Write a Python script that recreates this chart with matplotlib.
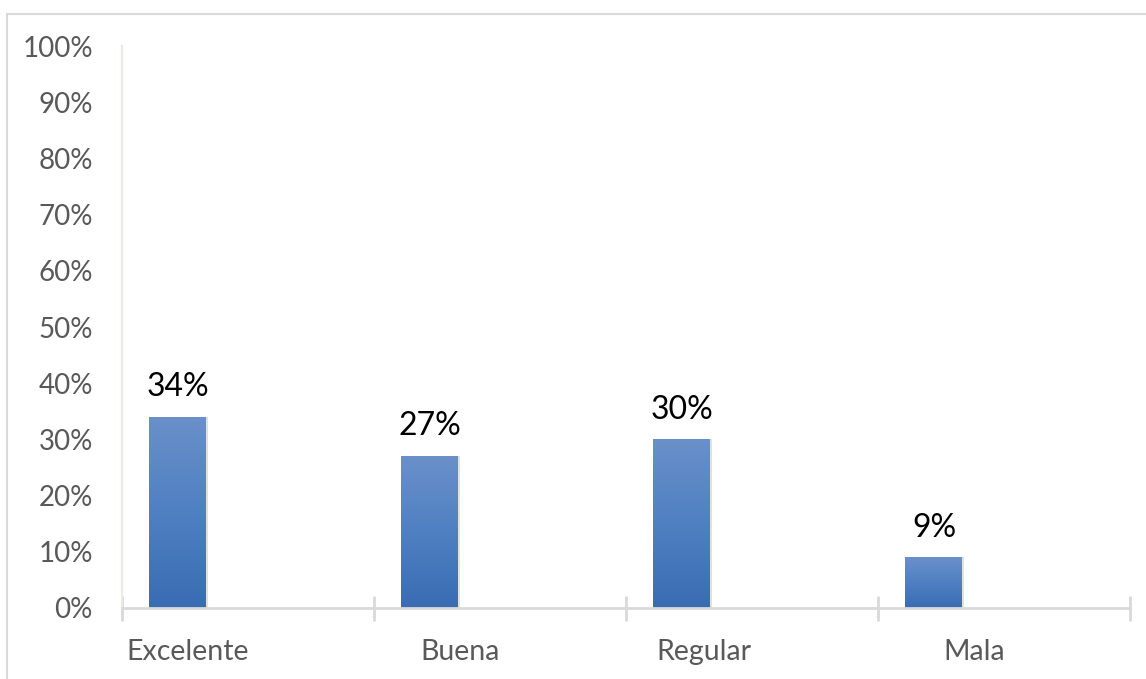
import numpy as np
import matplotlib
matplotlib.use("Agg")
import matplotlib.pyplot as plt
from matplotlib.patches import Rectangle
from matplotlib.colors import LinearSegmentedColormap

# Survey ratings
categories = ['Excelente', 'Buena', 'Regular', 'Mala']
values = [34, 27, 30, 9]
label_offsets = [-0.24, -0.16, -0.19, -0.12]

plt.rcParams['font.family'] = ['Lato', 'DejaVu Sans']

fig = plt.figure(figsize=(11.46, 6.79), dpi=100)
ax = fig.add_axes([122 / 1146, 71 / 679, 1008 / 1146, 562 / 679])

# light frame around the chart area
fig.patches.append(Rectangle((7 / 1146, -0.1), 1.2, (679 - 14) / 679 + 0.1,
                             transform=fig.transFigure, fill=False,
                             edgecolor='#D9D9D9', linewidth=1.5))

x = np.arange(len(categories))
bar_x = x - 0.278
bars = ax.bar(bar_x, values, width=0.226, color='#4F81BD', zorder=3)

cmap = LinearSegmentedColormap.from_list('bar', ['#3A6CB3', '#4F80C2', '#6A90C9'])
grad = np.linspace(0, 1, 256).reshape(-1, 1)
for b in bars:
    x0, w, h = b.get_x(), b.get_width(), b.get_height()
    # soft drop shadow
    ax.add_patch(Rectangle((x0 + 0.006, -0.3), w, h + 0.3, color='#000000',
                           alpha=0.12, zorder=2, linewidth=0))
    im = ax.imshow(grad, cmap=cmap, origin='lower', aspect='auto',
                   extent=(x0, x0 + w, 0, h), zorder=4)
    im.set_clip_path(b)

for bx, v in zip(bar_x, values):
    ax.text(bx, v + 5.3, f'{v}%', ha='center', va='center', fontsize=23,
            color='#000000')

ax.set_xlim(-0.5, len(categories) - 0.5)
ax.set_ylim(0, 100)
ax.set_yticks(np.arange(0, 101, 10))
ax.set_yticklabels([f'{t}%' for t in range(0, 101, 10)])
ax.tick_params(axis='y', length=0, pad=21, labelsize=20, labelcolor='#595959')

ax.set_xticks(x + np.array(label_offsets))
ax.set_xticklabels(categories)
ax.tick_params(axis='x', which='major', length=0, pad=22, labelsize=20.5,
               labelcolor='#595959')
ax.set_xticks(np.arange(-0.5, len(categories)), minor=True)
ax.tick_params(axis='x', which='minor', direction='inout', length=18,
               width=2, color='#D9D9D9')

for s in ['top', 'right']:
    ax.spines[s].set_visible(False)
ax.spines['bottom'].set_color('#D9D9D9')
ax.spines['bottom'].set_linewidth(2)
ax.spines['bottom'].set_zorder(5)
ax.spines['left'].set_color('#EDEBE0')
ax.spines['left'].set_linewidth(1.5)

fig.savefig('out.png', dpi=100)
